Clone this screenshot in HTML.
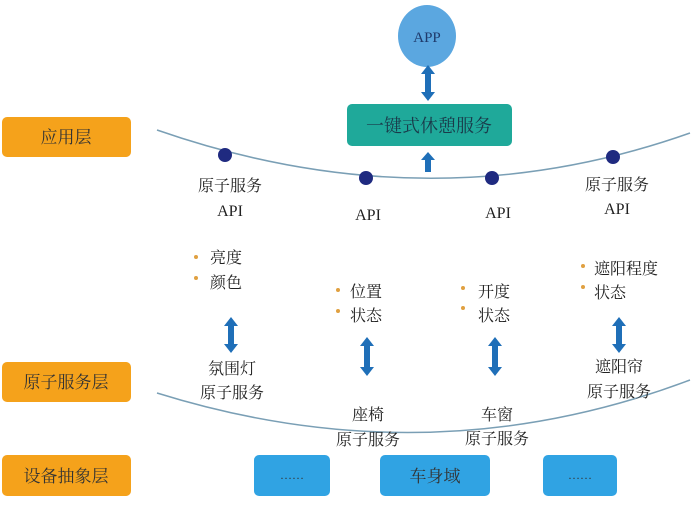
<!DOCTYPE html>
<html><head><meta charset="utf-8"><style>
body{margin:0;background:#fff;}
svg{display:block;font-family:"Liberation Serif","Noto Serif CJK SC",serif;}
</style></head><body>
<svg width="691" height="506" viewBox="0 0 691 506">
<rect x="2" y="117" width="129" height="40" rx="5" fill="#f5a21b"/>
<text x="66" y="143" font-size="17" text-anchor="middle" fill="#333">应用层</text>
<rect x="2" y="362" width="129" height="40" rx="5" fill="#f5a21b"/>
<text x="66" y="388" font-size="17" text-anchor="middle" fill="#333">原子服务层</text>
<rect x="2" y="455" width="129" height="41" rx="5" fill="#f5a21b"/>
<text x="66" y="482" font-size="17" text-anchor="middle" fill="#333">设备抽象层</text>
<ellipse cx="427" cy="36" rx="29" ry="31" fill="#5ba7e0"/>
<text x="427" y="42" font-size="15" text-anchor="middle" fill="#1f3a6b">APP</text>
<g fill="#1f6fb8">
<rect x="425" y="73" width="6" height="20"/>
<polygon points="421,74 435,74 428,65"/>
<polygon points="421,92 435,92 428,101"/>
<rect x="425" y="159" width="6" height="13"/>
<polygon points="421,160 435,160 428,152"/>
</g>
<rect x="347" y="104" width="165" height="42" rx="5" fill="#1fa99a"/>
<text x="429" y="132" font-size="18" text-anchor="middle" fill="#1a3a4a">一键式休憩服务</text>
<path d="M157,130 Q430,225 690,133" fill="none" stroke="#7a9fb5" stroke-width="1.5"/>
<path d="M157,393 Q430,478 690,380" fill="none" stroke="#7a9fb5" stroke-width="1.5"/>
<g fill="#1f2a80">
<circle cx="225" cy="155" r="7"/>
<circle cx="366" cy="178" r="7"/>
<circle cx="492" cy="178" r="7"/>
<circle cx="613" cy="157" r="7"/>
</g>
<g font-size="16" text-anchor="middle" fill="#222">
<text x="230" y="191">原子服务</text><text x="230" y="216">API</text>
<text x="368" y="220">API</text>
<text x="498" y="218">API</text>
<text x="617" y="190">原子服务</text><text x="617" y="214">API</text>
<text x="232" y="374">氛围灯</text><text x="232" y="398">原子服务</text>
<text x="368" y="420">座椅</text><text x="368" y="445">原子服务</text>
<text x="497" y="420">车窗</text><text x="497" y="444">原子服务</text>
<text x="619" y="372">遮阳帘</text><text x="619" y="397">原子服务</text>
</g>
<g font-size="16" fill="#222">
<text x="210" y="263">亮度</text><text x="210" y="288">颜色</text>
<text x="350" y="297">位置</text><text x="350" y="321">状态</text>
<text x="478" y="297">开度</text><text x="478" y="321">状态</text>
<text x="594" y="274">遮阳程度</text><text x="594" y="298">状态</text>
</g>
<g fill="#e0a040">
<circle cx="196" cy="257" r="2"/><circle cx="196" cy="278" r="2"/>
<circle cx="338" cy="290" r="2"/><circle cx="338" cy="311" r="2"/>
<circle cx="463" cy="288" r="2"/><circle cx="463" cy="308" r="2"/>
<circle cx="583" cy="266" r="2"/><circle cx="583" cy="287" r="2"/>
</g>
<g fill="#1f6fb8">
<rect x="228" y="325" width="6" height="20"/><polygon points="224,326 238,326 231,317"/><polygon points="224,344 238,344 231,353"/>
<rect x="364" y="345" width="6" height="23"/><polygon points="360,346 374,346 367,337"/><polygon points="360,367 374,367 367,376"/>
<rect x="492" y="345" width="6" height="23"/><polygon points="488,346 502,346 495,337"/><polygon points="488,367 502,367 495,376"/>
<rect x="616" y="325" width="6" height="20"/><polygon points="612,326 626,326 619,317"/><polygon points="612,344 626,344 619,353"/>
</g>
<rect x="254" y="455" width="76" height="41" rx="5" fill="#30a3e3"/>
<text x="292" y="479" font-size="12" text-anchor="middle" fill="#333">……</text>
<rect x="380" y="455" width="110" height="41" rx="5" fill="#30a3e3"/>
<text x="435" y="482" font-size="17" text-anchor="middle" fill="#333">车身域</text>
<rect x="543" y="455" width="74" height="41" rx="5" fill="#30a3e3"/>
<text x="580" y="479" font-size="12" text-anchor="middle" fill="#333">……</text>
</svg>
</body></html>
